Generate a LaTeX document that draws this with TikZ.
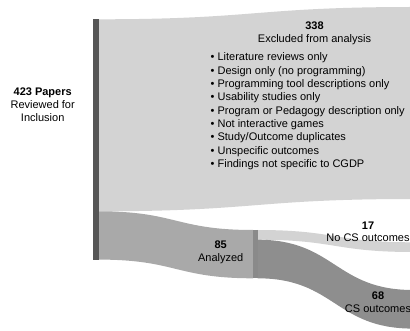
\documentclass[tikz,border=0pt]{standalone}
\usepackage{fontspec}
\setmainfont{Liberation Sans}
\begin{document}
\begin{tikzpicture}[x=1pt,y=-1pt,
  lbl/.style={inner sep=0pt,anchor=base,font=\fontsize{11}{13}\selectfont},
  num/.style={lbl,font=\fontsize{11}{13}\selectfont\bfseries},
  item/.style={inner sep=0pt,anchor=base west,font=\fontsize{11}{13}\selectfont}]
\useasboundingbox (0,0) rectangle (410,331);
\definecolor{srcbar}{HTML}{565656}
\definecolor{lightflow}{HTML}{D3D3D3}
\definecolor{midflow}{HTML}{A9A9A9}
\definecolor{midnode}{HTML}{8A8A8A}
\definecolor{darkflow}{HTML}{8E8E8E}
\begin{scope}
\clip (0,0) rectangle (410,331);
% flow: all papers -> excluded
\fill[lightflow] (99,19.3) .. controls (256,19.3) and (256,7) .. (413,7)
  -- (413,199) .. controls (256,199) and (256,211.3) .. (99,211.3) -- cycle;
% flow: all papers -> analyzed
\fill[midflow] (99,211.3) .. controls (176,211.3) and (176,230) .. (253,230)
  -- (253,278.3) .. controls (176,278.3) and (176,259.6) .. (99,259.6) -- cycle;
% flow: analyzed -> no CS outcomes
\fill[lightflow] (257.5,230) .. controls (335,230) and (335,242.3) .. (413,242.3)
  -- (413,252) .. controls (335,252) and (335,239.7) .. (257.5,239.7) -- cycle;
% flow: analyzed -> CS outcomes
\fill[darkflow] (257.5,239.7) .. controls (335,239.7) and (335,290) .. (413,290)
  -- (413,328.6) .. controls (335,328.6) and (335,278.3) .. (257.5,278.3) -- cycle;
\end{scope}
% node bars
\fill[srcbar] (93.3,19.3) rectangle (99,259.6);
\fill[midnode] (253,230) rectangle (257.5,278.3);
% labels
\node[num] (papers) at (42.7,95.5) {423 Papers};
\node[lbl] (reviewed) at (42.7,108.3) {Reviewed for};
\node[lbl] (inclusion) at (42.7,121.1) {Inclusion};
\node[num] (excnum) at (314.5,30) {338};
\node[lbl] (exctxt) at (314.5,42.3) {Excluded from analysis};
\foreach \t [count=\i] in {Literature reviews only,
  Design only (no programming),
  Programming tool descriptions only,
  Usability studies only,
  Program or Pedagogy description only,
  Not interactive games,
  Study/Outcome duplicates,
  Unspecific outcomes,
  Findings not specific to CGDP}
  \node[item] (reason\i) at (210.5,{61+(\i-1)*13.29}) {• \t};
\node[num] (ananum) at (220.7,249) {85};
\node[lbl] (anatxt) at (220.7,261.3) {Analyzed};
\node[num] (nocsnum) at (368,230) {17};
\node[lbl] (nocstxt) at (368,242) {No CS outcomes};
\node[num] (csnum) at (378,300) {68};
\node[lbl] (cstxt) at (378,312.3) {CS outcomes};
\end{tikzpicture}
\end{document}
